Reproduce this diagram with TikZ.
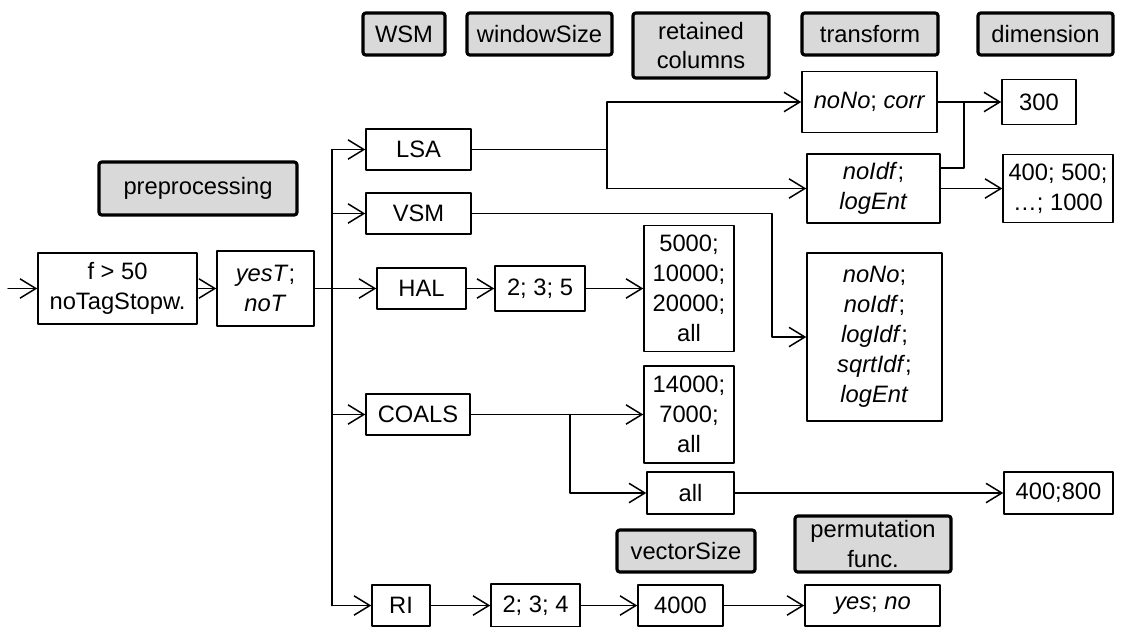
\documentclass[tikz,border=0pt]{standalone}
\usepackage{fontspec}
\setmainfont{Liberation Sans}
\usetikzlibrary{arrows.meta}
\definecolor{headgray}{RGB}{217,217,217}

\begin{document}
\begin{tikzpicture}[x=0.02cm, y=-0.02cm, line cap=round, line join=round,
    line width=0.85pt, font=\fontsize{13.5}{17}\selectfont,
    >={Straight Barb[length=9pt, width=11pt]},
    box/.style={draw, fill=white, align=center, inner sep=0pt},
    head/.style={draw, line width=1.8pt, fill=headgray, rounded corners=1.5pt,
                 align=center, inner sep=0pt}]
  \useasboundingbox (0,0) rectangle (1124,626);
  % column headers
  \node[head, minimum width=1.64cm, minimum height=0.84cm] (hwsm) at (404,34) {WSM};
  \node[head, minimum width=2.9cm, minimum height=0.84cm] (hwin) at (539.5,34) {windowSize};
  \node[head, minimum width=2.72cm, minimum height=1.3cm] (hret) at (701,45.5) {retained\\columns};
  \node[head, minimum width=2.72cm, minimum height=0.84cm] (htra) at (870,34) {transform};
  \node[head, minimum width=2.7cm, minimum height=0.84cm] (hdim) at (1045.5,34) {dimension};
  \node[head, minimum width=3.96cm, minimum height=1.06cm] (hpre) at (198,188.5) {preprocessing};
  \node[head, minimum width=2.76cm, minimum height=0.84cm] (hvec) at (686,551) {vectorSize};
  \node[head, minimum width=3.12cm, minimum height=1.12cm] (hper) at (873,544) {permutation\\func.};
  % preprocessing
  \node[box, minimum width=3.18cm, minimum height=1.42cm] (pre) at (117.5,288.5) {f > 50\\noTagStopw.};
  \node[box, minimum width=1.94cm, minimum height=1.5cm] (tag) at (265.5,288.5) {\textit{yesT};\\\textit{noT}};
  % models
  \node[box, minimum width=2.1cm, minimum height=0.82cm] (lsa) at (418.5,149.5) {LSA};
  \node[box, minimum width=2.1cm, minimum height=0.82cm] (vsm) at (418.5,213.5) {VSM};
  \node[box, minimum width=1.78cm, minimum height=0.82cm] (hal) at (421.5,288.5) {HAL};
  \node[box, minimum width=2.08cm, minimum height=0.82cm] (coals) at (418,414.5) {COALS};
  \node[box, minimum width=1.16cm, minimum height=0.82cm] (ri) at (401,605.5) {RI};
  % window sizes, columns, vector size
  \node[box, minimum width=1.8cm, minimum height=0.9cm] (win1) at (540,288.5) {2; 3; 5};
  \node[box, minimum width=1.8cm, minimum height=2.52cm] (ret1) at (689,288.5) {5000;\\10000;\\20000;\\all};
  \node[box, minimum width=1.8cm, minimum height=1.94cm] (ret2) at (689,414.5) {14000;\\7000;\\all};
  \node[box, minimum width=1.74cm, minimum height=0.84cm] (ret3) at (690.5,493) {all};
  \node[box, minimum width=1.78cm, minimum height=0.86cm] (win2) at (535.5,605.5) {2; 3; 4};
  \node[box, minimum width=1.7cm, minimum height=0.82cm] (vec1) at (680.5,605.5) {4000};
  % transforms
  \node[box, minimum width=2.7cm, minimum height=1.22cm] (tra1) at (869.5,102) {\textit{noNo}; \textit{corr}};
  \node[box, minimum width=2.66cm, minimum height=1.38cm] (tra2) at (873.5,188.5) {\textit{noIdf};\\\textit{logEnt}};
  \node[box, minimum width=2.7cm, minimum height=3.36cm] (tra3) at (874.5,337)
    {\textit{noNo};\\\textit{noIdf};\\\textit{logIdf};\\\textit{sqrtIdf};\\\textit{logEnt}};
  \node[box, minimum width=2.7cm, minimum height=0.82cm] (per1) at (872.5,605.5) {\textit{yes}; \textit{no}};
  % dimensions
  \node[box, minimum width=1.48cm, minimum height=0.9cm] (dim1) at (1039,102) {300};
  \node[box, minimum width=2.2cm, minimum height=1.36cm] (dim2) at (1058,188.5) {400; 500;\\…; 1000};
  \node[box, minimum width=2.18cm, minimum height=0.84cm] (dim3) at (1058.5,493) {400;800};

  % joints
  \coordinate (in) at (8,288.5);
  \coordinate (bus) at (332,288.5);
  \coordinate (lsaj) at (607,149.5);
  \coordinate (vsmj) at (772,213.5);
  \coordinate (coj) at (570,414.5);
  \coordinate (mrg) at (964,102);
  \coordinate (mrg2) at (964,168);

  % connectors
  \draw[->] (in) -- (pre);
  \draw[->] (pre) -- (tag);
  \draw[->] (tag) -- (hal);
  \draw (bus |- lsa) -- (bus |- ri);
  \draw[->] (bus |- lsa) -- (lsa);
  \draw[->] (bus |- vsm) -- (vsm);
  \draw[->] (bus |- coals) -- (coals);
  \draw[->] (bus |- ri) -- (ri);
  % LSA
  \draw (lsa) -- (lsaj);
  \draw (lsaj |- tra1) -- (lsaj |- tra2);
  \draw[->] (lsaj |- tra1) -- (tra1);
  \draw[->] (lsaj |- tra2) -- (tra2);
  \draw[->] (tra1) -- (dim1);
  \draw (tra2.east |- mrg2) -- (mrg2) -- (mrg);
  \draw[->] (tra2) -- (dim2);
  % VSM
  \draw[->] (vsm) -- (vsmj) |- (tra3);
  % HAL
  \draw[->] (hal) -- (win1);
  \draw[->] (win1) -- (ret1);
  % COALS
  \draw[->] (coals) -- (ret2);
  \draw[->] (coj) |- (ret3);
  \draw[->] (ret3) -- (dim3);
  % RI
  \draw[->] (ri) -- (win2);
  \draw[->] (win2) -- (vec1);
  \draw[->] (vec1) -- (per1);
\end{tikzpicture}
\end{document}
